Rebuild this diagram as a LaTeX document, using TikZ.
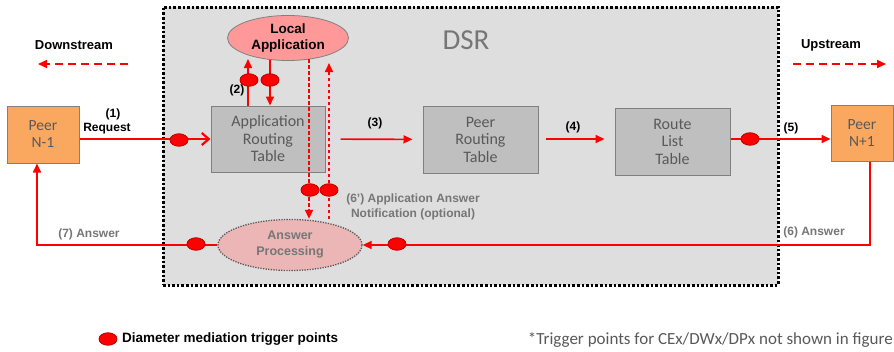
\documentclass[tikz,border=0pt]{standalone}
\usepackage{fontspec}
\setmainfont{Liberation Sans}
\newfontfamily\calibri{Carlito}
\usetikzlibrary{arrows.meta,positioning,shapes.geometric}
\definecolor{DSRgray}{RGB}{222,222,222}
\definecolor{BoxGray}{RGB}{191,191,191}
\definecolor{EdgeGray}{RGB}{128,128,128}
\definecolor{TxtGray}{RGB}{89,89,89}
\definecolor{LblGray}{RGB}{118,118,118}
\definecolor{PeerOrange}{RGB}{250,168,96}
\definecolor{LocalPink}{RGB}{255,153,153}
\definecolor{AnsPink}{RGB}{236,182,182}
\definecolor{TrigRed}{RGB}{190,0,0}
\tikzset{
  dsrbox/.style={draw=black,line width=3pt,dash pattern=on 2.6pt off 2pt,fill=DSRgray},
  peer/.style={rectangle,draw=EdgeGray,line width=1pt,fill=PeerOrange,
               text=TxtGray,align=center,inner sep=0pt,
               font=\calibri\fontsize{15.5}{17}\selectfont},
  tablebox/.style={rectangle,draw=EdgeGray,line width=1pt,fill=BoxGray,
                   text=TxtGray,align=center,inner sep=0pt,
                   minimum width=115pt,minimum height=66pt,
                   font=\calibri\fontsize{16}{17.5}\selectfont},
  trig/.style={ellipse,draw=TrigRed,line width=0.8pt,fill=red,
               minimum width=18pt,minimum height=12.5pt,inner sep=0pt},
  flow/.style={-{Triangle[length=9pt,width=8pt]},red,line width=1.6pt},
  req/.style={-{Straight Barb[length=7pt,width=12pt,line width=2.2pt]},red,line width=2.6pt},
  dflow/.style={-{Triangle[length=9pt,width=8pt]},red,line width=1.6pt,
                dash pattern=on 3.5pt off 2.5pt},
  lbl/.style={font=\bfseries\fontsize{12}{14}\selectfont,text=black,inner sep=0pt},
  glbl/.style={lbl,text=LblGray},
}
\begin{document}
\begin{tikzpicture}[x=1pt,y=-1pt]
  \useasboundingbox (0,0) rectangle (894,351);

  % DSR frame
  \node[dsrbox,minimum width=615pt,minimum height=278pt,inner sep=0pt] (dsr) at (470.5,146) {};
  \node[text=LblGray,font=\calibri\fontsize{29}{30}\selectfont] (dsrl) at (466,40) {DSR};

  % direction hints
  \node[lbl,font=\bfseries\fontsize{13}{15}\selectfont] (down) at (74,45) {Downstream};
  \node[lbl,font=\bfseries\fontsize{13}{15}\selectfont] (up) at (831,45) {Upstream};
  \coordinate (downa) at (128,64);
  \coordinate (downb) at (38,64);
  \coordinate (upa) at (793,64);
  \coordinate (upb) at (886,64);
  \draw[dflow,dash pattern=on 8pt off 5pt] (downa) -- (downb);
  \draw[dflow,dash pattern=on 8pt off 5pt] (upa) -- (upb);

  % peers and tables
  \node[peer,minimum width=72pt,minimum height=57pt] (pl) at (43,134.5) {Peer\\N-1};
  \node[peer,minimum width=62pt,minimum height=56pt] (pr) at (862,133) {Peer\\N+1};
  \node[tablebox,minimum width=114pt] (art) at (268,139) {Application\\Routing\\Table};
  \node[tablebox,minimum height=67pt] (prt) at (480.5,139.5) {Peer\\Routing\\Table};
  \node[tablebox,minimum height=67pt] (rlt) at (672.5,141.5) {Route\\List\\Table};

  \node[ellipse,draw=EdgeGray,line width=0.8pt,fill=LocalPink,inner sep=0pt,
        minimum width=121pt,minimum height=45pt,align=center,
        font=\bfseries\fontsize{13.5}{16}\selectfont] (loc) at (288,38) {Local\\Application};
  \node[ellipse,draw=TxtGray,line width=1.3pt,dash pattern=on 1.3pt off 1.3pt,
        fill=AnsPink,inner sep=0pt,minimum width=144pt,minimum height=51pt,
        align=center,text=LblGray,
        font=\bfseries\fontsize{12.5}{16}\selectfont] (ans) at (290,245) {Answer\\Processing};

  % request path
  \draw[req] (pl.east |- art.west) -- (art.west);
  \draw[flow,shorten <=15pt,shorten >=10pt] (art) -- (prt);
  \draw[flow,shorten <=7pt,shorten >=10pt] (prt.east |- 0,139) -- (rlt.west |- 0,139);
  \draw[flow] (rlt.east |- 0,139) -- (pr.west |- 0,139);

  % local application hops
  \draw[flow] (248,0 |- art.north) -- (248,59);
  \draw[flow] (270,60) -- (270,0 |- art.north);
  \draw[dflow] (309,59) -- (309,0 |- ans.north);
  \draw[dflow] (329,219) -- (329,63);

  % answer path
  \draw[flow] (pr.south -| 870,0) |- (ans.east);
  \draw[flow] (ans.west) -| (pl.south -| 37,0);

  % trigger points
  \node[trig] (t1) at (179,140) {};
  \node[trig] (t2a) at (249,80) {};
  \node[trig] (t2b) at (270,80) {};
  \node[trig] (t5) at (750,139) {};
  \node[trig] (t6a) at (310,190) {};
  \node[trig] (t6b) at (329,190) {};
  \node[trig] (t6) at (397,244) {};
  \node[trig] (t7) at (196,244) {};

  % labels
  \node[lbl] (l1) at (113,114) {(1)};
  \node[lbl] (l1r) at (107,129) {Request};
  \node[lbl] (l2) at (237,90) {(2)};
  \node[lbl] (l3) at (375,123) {(3)};
  \node[lbl] (l4) at (573,127) {(4)};
  \node[lbl] (l5) at (791,128) {(5)};
  \node[glbl,align=center,font=\bfseries\fontsize{12}{15}\selectfont] (l6p) at (413,207)
    {(6') Application Answer\\Notification (optional)};
  \node[glbl] (l6) at (814,232) {(6) Answer};
  \node[glbl] (l7) at (89,234) {(7) Answer};

  % legend
  \node[trig] (leg) at (108,339) {};
  \node[lbl,anchor=west,font=\bfseries\fontsize{13.5}{15}\selectfont] (legt) at (122,339)
    {Diameter mediation trigger points};
  \node[anchor=east,inner sep=0pt,text=TxtGray,font=\calibri\fontsize{17}{19}\selectfont] (note) at (893,340)
    {*Trigger points for CEx/DWx/DPx not shown in figure};
\end{tikzpicture}
\end{document}
